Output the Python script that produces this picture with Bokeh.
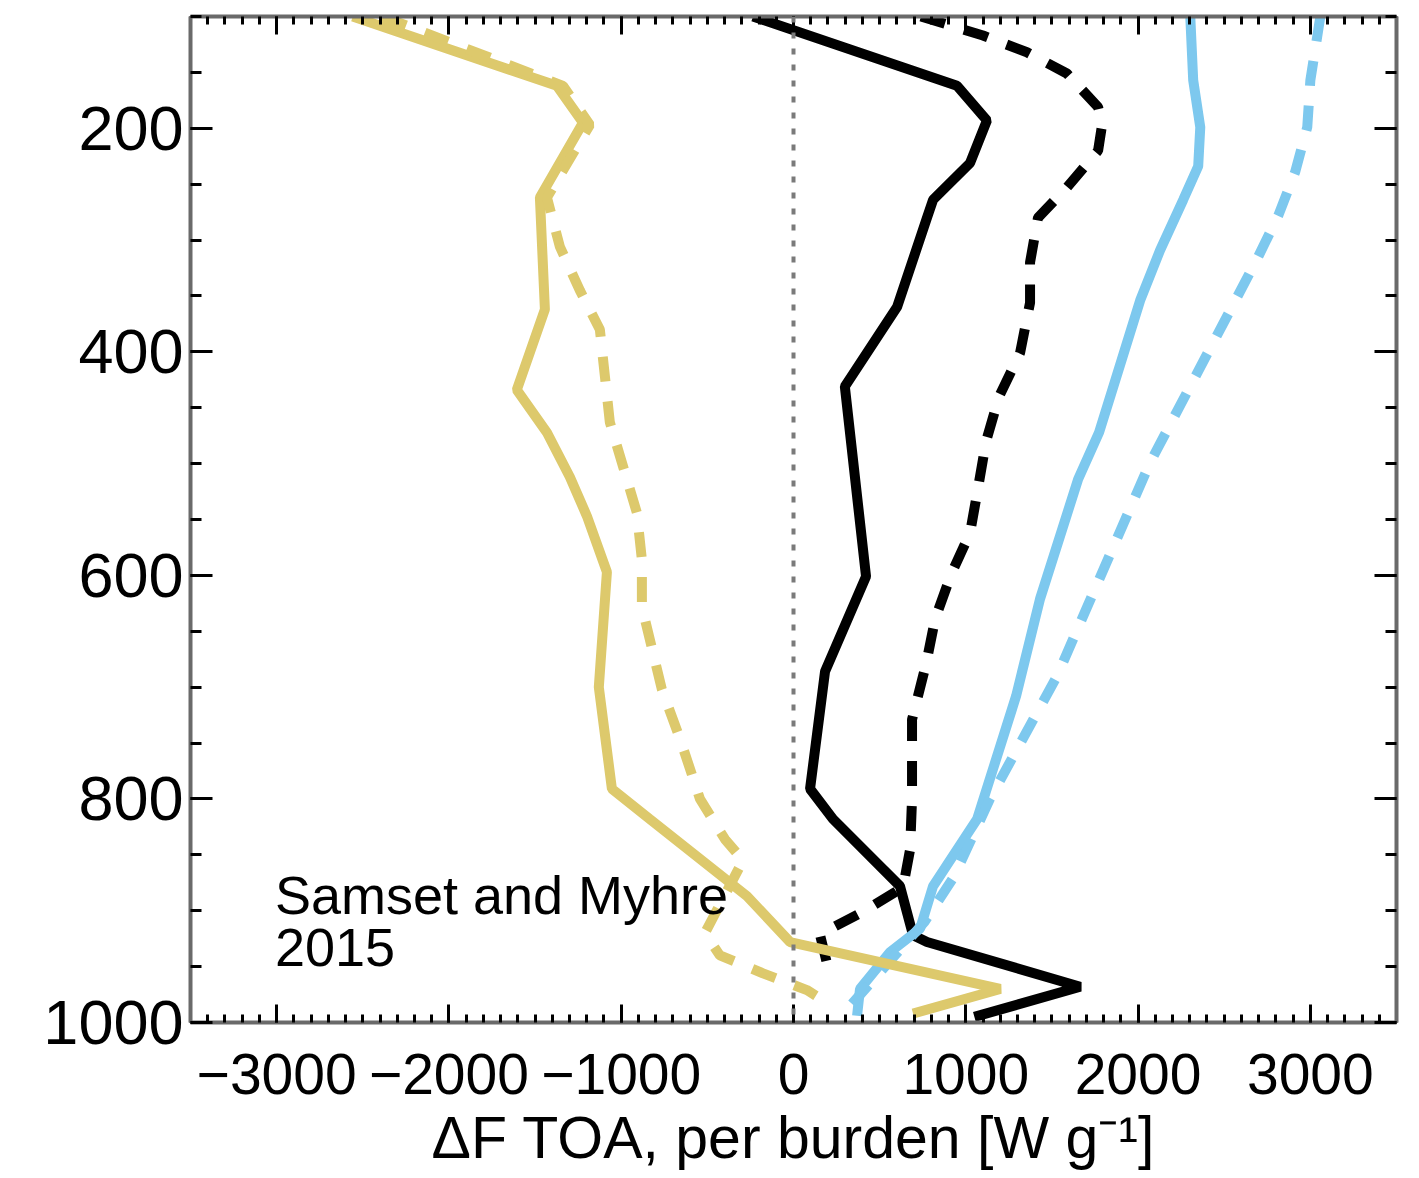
from bokeh.plotting import figure
from bokeh.models import Range1d, FixedTicker, LinearAxis, Span, CustomJSTickFormatter
from bokeh.core.properties import value
from bokeh.embed import file_html
from bokeh.resources import INLINE

# ---------------- data ----------------
# pressure levels [hPa] and forcing per burden [W g-1]
black_solid_p = [100, 162, 193, 231, 264, 280, 360, 431, 601, 686, 791, 818, 878, 922, 928, 968, 995]
black_solid_x = [-235, 949, 1123, 1025, 810, 775, 601, 298, 421, 183, 96, 229, 618, 694, 775, 1664, 1050]

black_dash_p = [100, 117, 132, 151, 181, 197, 220, 253, 280, 320, 356, 401, 440, 480, 521, 562, 599,
                639, 679, 729, 800, 845, 879, 901, 921, 947, 956]
black_dash_x = [740, 1100, 1355, 1587, 1768, 1791, 1768, 1587, 1419, 1373, 1373, 1315, 1193, 1118, 1072,
                1025, 915, 822, 770, 688, 688, 677, 636, 403, 153, 194, 241]

blue_solid_p = [100, 157, 199, 234, 264, 309, 354, 472, 514, 621, 708, 818, 878, 916, 937, 970, 994]
blue_solid_x = [2303, 2320, 2361, 2349, 2262, 2128, 2012, 1774, 1652, 1431, 1292, 1066, 810, 735, 560, 386, 369]

blue_dash_p = [100, 157, 199, 239, 278, 315, 351, 499, 651, 690, 800, 870, 910, 945, 985]
blue_dash_x = [3058, 3000, 2982, 2912, 2814, 2697, 2575, 2070, 1640, 1530, 1140, 930, 760, 560, 330]

yellow_solid_p = [100, 162, 195, 262, 362, 434, 472, 512, 547, 597, 700, 791, 818, 887, 928, 970, 992]
yellow_solid_x = [-2558, -1373, -1222, -1472, -1443, -1606, -1432, -1298, -1199, -1083, -1130, -1054,
                  -834, -270, -20, 1200, 694]

yellow_dash_p = [100, 162, 197, 262, 306, 345, 380, 463, 544, 586, 628, 702, 746, 800, 836, 855, 920,
                 940, 956, 971, 976]
yellow_dash_x = [-2384, -1338, -1182, -1431, -1356, -1240, -1124, -1066, -909, -880, -880, -764, -659,
                 -543, -398, -293, -514, -427, -177, 78, 130]

x_ticks = [-3000, -2000, -1000, 0, 1000, 2000, 3000]
x_tick_labels = ["\u22123000", "\u22122000", "\u22121000", "0", "1000", "2000", "3000"]
x_minor = list(range(-3500, 3501, 100))
y_ticks = [200, 400, 600, 800, 1000]
y_tick_labels = ["200", "400", "600", "800", "1000"]
y_minor = list(range(100, 1001, 50))

x_label = "\u0394F TOA, per burden [W g\u207b\u00b9]"
note_lines = ["Samset and Myhre", "2015"]

# ---------------- styles ----------------
FONT = "Liberation Sans"
YELLOW = "#DDC96C"
BLUE = "#7DC8EE"
BLACK = "#000000"
AXIS_COLOR = "#6a6a6a"

p = figure(frame_width=1206, frame_height=1006,
           x_range=Range1d(-3500, 3500), y_range=Range1d(1000, 100),
           output_backend="svg", toolbar_location=None,
           min_border_left=190, min_border_right=12, min_border_top=16, min_border_bottom=152)
p.grid.visible = False
p.outline_line_color = None
p.background_fill_color = "white"
p.border_fill_color = "white"

xt = FixedTicker(ticks=x_ticks, minor_ticks=x_minor)
yt = FixedTicker(ticks=y_ticks, minor_ticks=y_minor)


def style_axis(ax, major_len, minor_len, size):
    ax.axis_line_color = AXIS_COLOR
    ax.axis_line_width = 4
    ax.major_tick_line_color = BLACK
    ax.minor_tick_line_color = BLACK
    ax.major_tick_line_width = 3
    ax.minor_tick_line_width = 3
    ax.major_tick_in = major_len
    ax.major_tick_out = 0
    ax.minor_tick_in = minor_len
    ax.minor_tick_out = 0
    ax.major_label_text_font = FONT
    ax.major_label_text_font_size = size
    ax.major_label_text_color = BLACK


xa = p.xaxis[0]
xa.ticker = xt
xa.major_label_overrides = dict(zip(x_ticks, x_tick_labels))
style_axis(xa, 18, 8, "57px")
xa.major_label_standoff = 31
xa.axis_label = x_label
xa.axis_label_text_font = FONT
xa.axis_label_text_font_size = "59px"
xa.axis_label_text_font_style = "normal"
xa.axis_label_text_color = BLACK
xa.axis_label_standoff = 8

ya = p.yaxis[0]
ya.ticker = yt
ya.major_label_overrides = dict(zip(y_ticks, y_tick_labels))
style_axis(ya, 22, 11, "63px")
ya.major_label_standoff = 7

blank = CustomJSTickFormatter(code="return ''")
top = LinearAxis(ticker=xt, formatter=blank)
style_axis(top, 18, 8, "57px")
p.add_layout(top, "above")
right = LinearAxis(ticker=yt, formatter=blank)
style_axis(right, 22, 11, "57px")
p.add_layout(right, "right")

p.add_layout(Span(location=0, dimension="height", line_color="#7a7a7a",
                  line_width=4, line_dash="6 10"))

LW = 10
DASH = "25 20"
p.line(black_solid_x, black_solid_p, line_color=BLACK, line_width=LW)
p.line(black_dash_x, black_dash_p, line_color=BLACK, line_width=LW, line_dash=DASH)
p.line(blue_solid_x, blue_solid_p, line_color=BLUE, line_width=LW)
p.line(blue_dash_x, blue_dash_p, line_color=BLUE, line_width=LW, line_dash=DASH)
p.line(yellow_solid_x, yellow_solid_p, line_color=YELLOW, line_width=LW)
p.line(yellow_dash_x, yellow_dash_p, line_color=YELLOW, line_width=LW, line_dash=DASH)

p.text(x=[-3010, -3010], y=[886, 933], text=note_lines,
       text_font=value(FONT), text_font_size="54px", text_color=BLACK,
       text_baseline="alphabetic", text_align="left")

open("out.html", "w").write(file_html(p, INLINE))
